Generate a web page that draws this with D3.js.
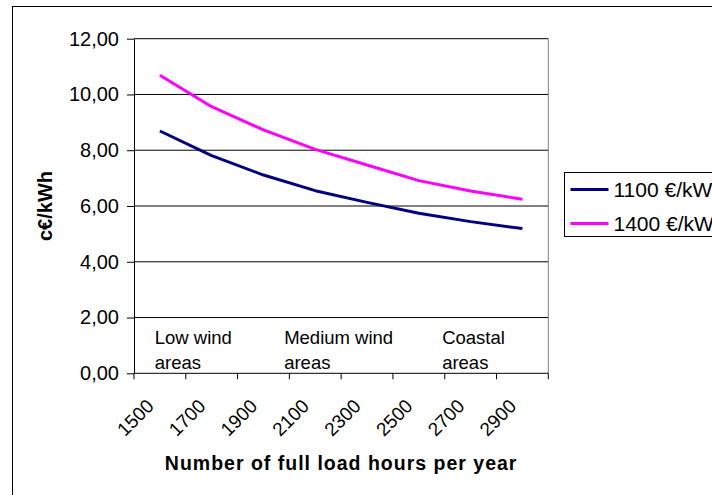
<!DOCTYPE html>
<html>
  <head>
  <meta charset="utf-8">
  <style>
  html, body {
    margin: 0;
    padding: 0;
    background: #fff;
  }
  svg {
    display: block;
    font-family: "Liberation Sans", Arial, sans-serif;
  }
  .grid line {
    stroke: #000;
    stroke-width: 1px;
  }
  </style>
</head>
<body>
  <svg width="712" height="495"></svg>
  <script src="https://d3js.org/d3.v7.min.js"></script>
  <script>

  // full load hours per year (categories)
  var hours = ["1500", "1700", "1900", "2100", "2300", "2500", "2700", "2900"];

  // cost in c€/kWh for two turbine prices
  var cost1100 = [8.69, 7.81, 7.11, 6.55, 6.13, 5.74, 5.44, 5.19];
  var cost1400 = [10.69, 9.56, 8.73, 8.03, 7.47, 6.91, 6.54, 6.24];

  var seriesNames = ["1100 €/kW", "1400 €/kW"];
  var seriesColors = ["#000080", "#ff00ff"];

  var yTicks = [0, 2, 4, 6, 8, 10, 12];

  // area notes: position in hours and value, two text lines each
  var noteHours = [1480, 1980, 2590];
  var noteLines = [["Low wind", "areas"], ["Medium wind", "areas"], ["Coastal", "areas"]];
  var noteValue = 1.04;

  var svg = d3.select("svg");

  var plotL = 134, plotR = 548.3, plotT = 38.7, plotB = 373.3;

  // outer chart frame (runs past the window on right and bottom)
  svg.append("rect")
      .attr("x", 12.5).attr("y", 6.5)
      .attr("width", 800).attr("height", 600)
      .attr("fill", "none")
      .attr("stroke", "#000");

  var x = d3.scaleBand()
      .domain(hours)
      .range([plotL, plotR])
      .padding(0);

  var y = d3.scaleLinear()
      .domain([0, 12])
      .range([plotB, plotT]);

  // hours -> x, through category centres
  var xh = d3.scaleLinear()
      .domain([1500, 2900])
      .range([x("1500") + x.bandwidth() / 2, x("2900") + x.bandwidth() / 2]);

  // gridlines
  svg.append("g")
      .attr("class", "grid")
    .selectAll("line")
    .data(yTicks.filter(function(d) { return d > 0; }))
    .enter().append("line")
      .attr("x1", plotL).attr("x2", plotR)
      .attr("y1", function(d) { return y(d); })
      .attr("y2", function(d) { return y(d); });

  // plot area right border
  svg.append("line")
      .attr("x1", plotR).attr("x2", plotR)
      .attr("y1", plotT).attr("y2", plotB)
      .attr("stroke", "#808080");

  // y axis
  var yAxis = svg.append("g")
      .attr("transform", "translate(" + plotL + ",0)")
      .call(d3.axisLeft(y)
        .tickValues(yTicks)
        .tickFormat(function(d) { return d.toFixed(2).replace(".", ","); })
        .tickSize(7)
        .tickSizeOuter(0)
        .tickPadding(8));
  yAxis.select(".domain").attr("stroke", "#000");
  yAxis.selectAll("text")
      .attr("font-size", "20px")
      .attr("font-family", "Liberation Sans, Arial, sans-serif")
      .attr("fill", "#000");

  // x axis line and ticks at category edges
  svg.append("line")
      .attr("x1", plotL).attr("x2", plotR)
      .attr("y1", plotB).attr("y2", plotB)
      .attr("stroke", "#000");

  var edges = hours.map(function(h) { return x(h); }).concat([x(hours[hours.length - 1]) + x.bandwidth()]);
  svg.append("g")
    .selectAll("line")
    .data(edges)
    .enter().append("line")
      .attr("x1", function(d) { return d; })
      .attr("x2", function(d) { return d; })
      .attr("y1", plotB).attr("y2", plotB + 6)
      .attr("stroke", "#000");

  svg.append("g")
    .selectAll("text")
    .data(hours)
    .enter().append("text")
      .attr("transform", function(d) {
        return "translate(" + (x(d) + x.bandwidth() / 2 - 5) + "," + (plotB + 34) + ") rotate(-45)";
      })
      .attr("text-anchor", "end")
      .attr("font-size", "19px")
      .text(function(d) { return d; });

  // area notes
  var notes = svg.append("g")
    .selectAll("text")
    .data(noteLines)
    .enter().append("text")
      .attr("x", function(d, i) { return xh(noteHours[i]); })
      .attr("y", y(noteValue))
      .attr("font-size", "18.5px");
  notes.selectAll("tspan")
    .data(function(d) { return d; })
    .enter().append("tspan")
      .attr("x", function() { return d3.select(this.parentNode).attr("x"); })
      .attr("dy", function(d, i) { return i === 0 ? 0 : "1.33em"; })
      .text(function(d) { return d; });

  // lines
  var line = d3.line()
      .x(function(d, i) { return x(hours[i]) + x.bandwidth() / 2; })
      .y(function(d) { return y(d); });

  [cost1100, cost1400].forEach(function(s, k) {
    svg.append("path")
        .datum(s)
        .attr("fill", "none")
        .attr("stroke", seriesColors[k])
        .attr("stroke-width", 3)
        .attr("stroke-linejoin", "round")
        .attr("d", line);
  });

  // axis titles
  svg.append("text")
      .attr("x", (plotL + plotR) / 2)
      .attr("y", 470)
      .attr("text-anchor", "middle")
      .attr("font-size", "19.5px")
      .attr("font-weight", "bold")
      .attr("letter-spacing", "1px")
      .text("Number of full load hours per year");

  svg.append("text")
      .attr("transform", "translate(52," + ((plotT + plotB) / 2) + ") rotate(-90)")
      .attr("text-anchor", "middle")
      .attr("font-size", "20px")
      .attr("font-weight", "bold")
      .text("c€/kWh");

  // legend
  var legend = svg.append("g")
      .attr("transform", "translate(564.5,172.5)");
  legend.append("rect")
      .attr("width", 300).attr("height", 64)
      .attr("fill", "#fff")
      .attr("stroke", "#000");
  var items = legend.selectAll("g.item")
    .data(seriesNames)
    .enter().append("g")
      .attr("class", "item")
      .attr("transform", function(d, i) { return "translate(0," + (17 + i * 34) + ")"; });
  items.append("line")
      .attr("x1", 6).attr("x2", 44)
      .attr("stroke", function(d, i) { return seriesColors[i]; })
      .attr("stroke-width", 3);
  items.append("text")
      .attr("x", 49)
      .attr("dy", "0.36em")
      .attr("font-size", "21px")
      .text(function(d) { return d; });

  </script>
</body>
</html>
